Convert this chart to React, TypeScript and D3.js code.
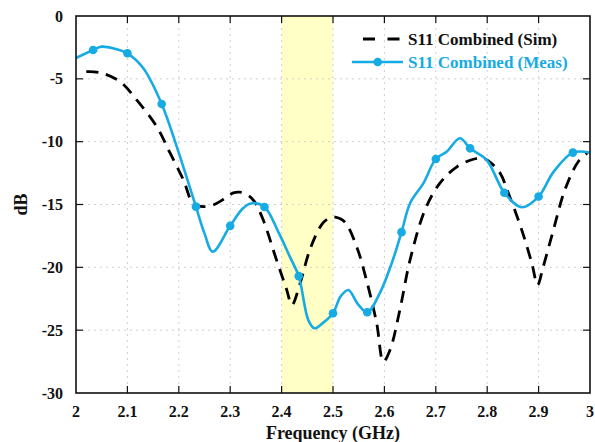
import React from "react";
import * as d3 from "d3";

const simFreq = [2.02, 2.047, 2.086, 2.118, 2.157, 2.183, 2.209, 2.228, 2.248, 2.267, 2.29, 2.306, 2.319, 2.334, 2.347, 2.364, 2.39, 2.41, 2.42, 2.436, 2.455, 2.478, 2.492, 2.504, 2.523, 2.546, 2.565, 2.585, 2.598, 2.611, 2.63, 2.65, 2.679, 2.708, 2.741, 2.773, 2.79, 2.806, 2.825, 2.844, 2.867, 2.887, 2.898, 2.909, 2.929, 2.951, 2.977, 2.995];
const simDb = [-4.43, -4.51, -5.23, -6.68, -8.8, -10.9, -13.05, -14.9, -15.17, -15.04, -14.5, -14.08, -14.02, -14.25, -14.75, -16.2, -19.4, -21.8, -23.0, -21.27, -18.6, -16.6, -16.1, -16.0, -16.4, -18.35, -21.0, -24.45, -27.5, -26.57, -23.4, -19.4, -15.43, -13.3, -12.0, -11.4, -11.3, -11.65, -12.5, -14.4, -17.0, -19.7, -21.4, -19.95, -17.0, -13.85, -11.6, -10.9];

const measFreq = [2.0, 2.0333, 2.05, 2.075, 2.1, 2.131, 2.1667, 2.196, 2.2333, 2.25, 2.266, 2.3, 2.325, 2.342, 2.3667, 2.395, 2.416, 2.4333, 2.452, 2.464, 2.481, 2.5, 2.515, 2.53, 2.548, 2.5667, 2.591, 2.614, 2.6333, 2.65, 2.676, 2.7, 2.721, 2.747, 2.7667, 2.799, 2.8333, 2.867, 2.9, 2.929, 2.9667, 3.0];
const measDb = [-3.34, -2.7, -2.44, -2.6, -2.97, -4.16, -7.0, -10.4, -15.17, -17.3, -18.75, -16.7, -15.3, -14.9, -15.2, -17.3, -19.15, -20.7, -24.2, -24.85, -24.4, -23.65, -22.3, -21.8, -22.9, -23.57, -22.06, -19.7, -17.2, -14.9, -13.3, -11.38, -10.8, -9.73, -10.53, -11.46, -14.06, -15.22, -14.37, -12.4, -10.87, -10.87];

const markerFreq = [2.0333, 2.1, 2.1667, 2.2333, 2.3, 2.3667, 2.4333, 2.5, 2.5667, 2.6333, 2.7, 2.7667, 2.8333, 2.9, 2.9667];
const markerDb = [-2.7, -2.97, -7.0, -15.17, -16.7, -15.2, -20.7, -23.65, -23.57, -17.2, -11.38, -10.53, -14.06, -14.37, -10.87];

const xTicks = [2, 2.1, 2.2, 2.3, 2.4, 2.5, 2.6, 2.7, 2.8, 2.9, 3];
const xTickLabels = ["2", "2.1", "2.2", "2.3", "2.4", "2.5", "2.6", "2.7", "2.8", "2.9", "3"];
const yTicks = [0, -5, -10, -15, -20, -25, -30];
const bandRange = [2.4, 2.5];

const legendLabels = ["S11 Combined (Sim)", "S11 Combined (Meas)"];

const W = 595;
const H = 442;
const L = 76, R = 590, T = 16, B = 393;
const BLUE = "#16abe2";
const FONT = '"Liberation Serif", "DejaVu Serif", serif';

const txt = (size: number): React.CSSProperties => ({
  fontFamily: FONT,
  fontSize: size,
  fontWeight: 700,
});

export default function App() {
  const x = d3.scaleLinear().domain([2, 3]).range([L, R]);
  const y = d3.scaleLinear().domain([-30, 0]).range([B, T]);

  const simLine = d3
    .line<number>()
    .x((_, i) => x(simFreq[i]))
    .y((d) => y(d))
    .curve(d3.curveCatmullRom.alpha(0.5));
  const measLine = d3
    .line<number>()
    .x((_, i) => x(measFreq[i]))
    .y((d) => y(d))
    .curve(d3.curveCatmullRom.alpha(0.5));

  const tickLen = 7;

  return (
    <svg
      width={W}
      height={H}
      style={{ position: "absolute", left: 0, top: 0, background: "#fff" }}
    >
      <defs>
        <clipPath id="plotClip">
          <rect x={L} y={T} width={R - L} height={B - T} />
        </clipPath>
      </defs>
      <rect x={0} y={0} width={W} height={H} fill="#fff" />
      <rect
        x={x(bandRange[0])}
        y={T}
        width={x(bandRange[1]) - x(bandRange[0])}
        height={B - T}
        fill="#ffffc6"
      />
      {xTicks.slice(1, -1).map((t) => (
        <line
          key={"gx" + t}
          x1={x(t)}
          x2={x(t)}
          y1={T}
          y2={B}
          stroke="#cfcfcf"
          strokeWidth={1}
          strokeDasharray="2,4"
        />
      ))}
      {yTicks.slice(1, -1).map((t) => (
        <line
          key={"gy" + t}
          x1={L}
          x2={R}
          y1={y(t)}
          y2={y(t)}
          stroke="#cfcfcf"
          strokeWidth={1}
          strokeDasharray="2,4"
        />
      ))}
      <g clipPath="url(#plotClip)">
        <path
          d={simLine(simDb) || ""}
          fill="none"
          stroke="#000"
          strokeWidth={2.8}
          strokeDasharray="12,8"
        />
        <path d={measLine(measDb) || ""} fill="none" stroke={BLUE} strokeWidth={2.6} />
        {markerFreq.map((f, i) => (
          <circle key={"m" + i} cx={x(f)} cy={y(markerDb[i])} r={4.3} fill={BLUE} />
        ))}
      </g>
      <rect x={L} y={T} width={R - L} height={B - T} fill="none" stroke="#111" strokeWidth={1.6} />
      {xTicks.slice(1, -1).map((t) => (
        <g key={"tx" + t}>
          <line x1={x(t)} x2={x(t)} y1={B} y2={B - tickLen} stroke="#111" strokeWidth={1.2} />
          <line x1={x(t)} x2={x(t)} y1={T} y2={T + tickLen} stroke="#111" strokeWidth={1.2} />
        </g>
      ))}
      {yTicks.slice(1, -1).map((t) => (
        <g key={"ty" + t}>
          <line x1={L} x2={L + tickLen} y1={y(t)} y2={y(t)} stroke="#111" strokeWidth={1.2} />
          <line x1={R} x2={R - tickLen} y1={y(t)} y2={y(t)} stroke="#111" strokeWidth={1.2} />
        </g>
      ))}
      {xTicks.map((t, i) => (
        <text key={"lx" + t} x={x(t)} y={417} textAnchor="middle" style={txt(16)} fill="#111">
          {xTickLabels[i]}
        </text>
      ))}
      {yTicks.map((t) => (
        <text
          key={"ly" + t}
          x={63}
          y={y(t)}
          dy="0.35em"
          textAnchor="end"
          style={txt(16)}
          fill="#111"
        >
          {t}
        </text>
      ))}
      <text x={333} y={439} textAnchor="middle" style={txt(18)} fill="#111">
        Frequency (GHz)
      </text>
      <text
        transform={`translate(27,${(T + B) / 2}) rotate(-90)`}
        textAnchor="middle"
        style={txt(18)}
        fill="#111"
      >
        dB
      </text>
      <line x1={363} x2={400} y1={39} y2={39} stroke="#000" strokeWidth={2.8} strokeDasharray="12,12.5" />
      <text x={408} y={45} style={txt(17)} fill="#111">
        {legendLabels[0]}
      </text>
      <line x1={352} x2={403} y1={62} y2={62} stroke={BLUE} strokeWidth={2.6} />
      <circle cx={377.7} cy={62} r={4.3} fill={BLUE} />
      <text x={408} y={67.5} style={txt(17)} fill={BLUE}>
        {legendLabels[1]}
      </text>
    </svg>
  );
}
